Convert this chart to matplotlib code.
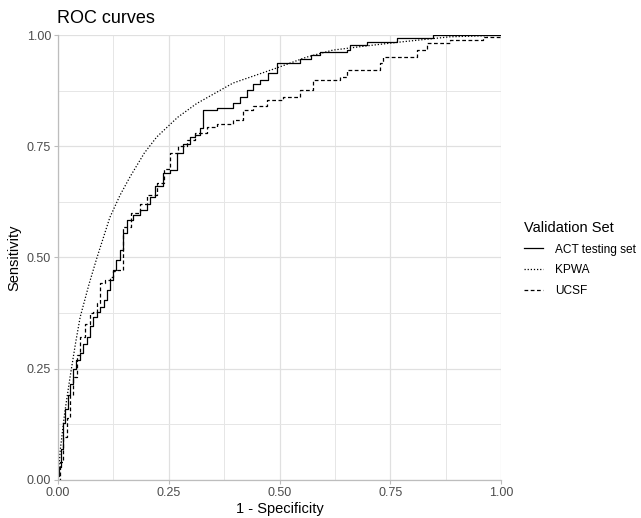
import matplotlib.pyplot as plt
from matplotlib.lines import Line2D

plt.rcParams['font.family'] = ['Liberation Sans', 'DejaVu Sans']

# ROC points (1 - specificity, sensitivity)
act_fpr = [0.0, 0.003, 0.006, 0.011, 0.016, 0.022, 0.027, 0.034, 0.041, 0.05, 0.057,
           0.065, 0.072, 0.079, 0.088, 0.095, 0.103, 0.11, 0.117, 0.124, 0.132, 0.14,
           0.147, 0.155, 0.17, 0.185, 0.2, 0.208, 0.22, 0.237, 0.253, 0.268, 0.283, 0.298,
           0.31, 0.32, 0.328, 0.36, 0.395, 0.41, 0.426, 0.44, 0.456, 0.475, 0.494, 0.546,
           0.57, 0.591, 0.652, 0.659, 0.697, 0.765, 0.847, 1.0]
act_tpr = [0.01, 0.03, 0.07, 0.128, 0.16, 0.19, 0.215, 0.25, 0.27, 0.285, 0.305,
           0.321, 0.345, 0.366, 0.378, 0.389, 0.405, 0.427, 0.45, 0.472, 0.494, 0.517,
           0.555, 0.584, 0.595, 0.607, 0.62, 0.637, 0.66, 0.69, 0.697, 0.735, 0.755, 0.771,
           0.775, 0.79, 0.831, 0.835, 0.847, 0.86, 0.876, 0.89, 0.899, 0.915, 0.937, 0.945,
           0.955, 0.962, 0.966, 0.978, 0.984, 0.993, 1.0, 1.0]

kpwa_fpr = [0.0, 0.005, 0.015, 0.027, 0.04, 0.05, 0.07, 0.088, 0.117, 0.14, 0.163,
            0.195, 0.223, 0.27, 0.313, 0.395, 0.494, 0.56, 0.62, 0.7, 0.77, 0.885, 0.95, 1.0]
kpwa_tpr = [0.0, 0.067, 0.15, 0.23, 0.31, 0.366, 0.44, 0.50, 0.59, 0.64, 0.682,
            0.735, 0.771, 0.815, 0.846, 0.892, 0.926, 0.95, 0.966, 0.976, 0.984, 0.996, 0.998, 1.0]

ucsf_fpr = [0.0, 0.004, 0.011, 0.02, 0.028, 0.034, 0.042, 0.05, 0.06, 0.072, 0.08,
            0.088, 0.095, 0.105, 0.117, 0.125, 0.133, 0.147, 0.165, 0.185, 0.2, 0.223,
            0.24, 0.253, 0.27, 0.291, 0.31, 0.336, 0.36, 0.395, 0.418, 0.44, 0.472,
            0.508, 0.546, 0.576, 0.637, 0.652, 0.727, 0.734, 0.81, 0.833, 0.885,
            0.959, 1.0]
ucsf_tpr = [0.0, 0.04, 0.097, 0.14, 0.19, 0.231, 0.28, 0.321, 0.35, 0.375, 0.378,
            0.398, 0.443, 0.45, 0.456, 0.47, 0.472, 0.569, 0.6, 0.62, 0.64, 0.667,
            0.7, 0.735, 0.75, 0.764, 0.78, 0.793, 0.8, 0.809, 0.831, 0.84, 0.854,
            0.861, 0.876, 0.899, 0.906, 0.921, 0.937, 0.951, 0.966, 0.982, 0.989,
            0.996, 1.0]

series = ['ACT testing set', 'KPWA', 'UCSF']
ticks = [0.0, 0.25, 0.5, 0.75, 1.0]
tick_labels = ['0.00', '0.25', '0.50', '0.75', '1.00']

fig = plt.figure(figsize=(6.41, 5.18), dpi=100)
ax = fig.add_axes([0.0905, 0.0734, 0.6911, 0.859])

ax.plot(act_fpr, act_tpr, color='black', lw=0.9, ls='-', drawstyle='steps-post')
ax.plot(kpwa_fpr, kpwa_tpr, color='black', lw=0.9, ls=(0, (1, 1.5)))
ax.plot(ucsf_fpr, ucsf_tpr, color='black', lw=0.9, ls=(0, (3, 2)), drawstyle='steps-post')

ax.set_xlim(0, 1)
ax.set_ylim(0, 1)
ax.set_xticks(ticks)
ax.set_xticklabels(tick_labels)
ax.set_yticks(ticks)
ax.set_yticklabels(tick_labels)
ax.set_xticks([0.125, 0.375, 0.625, 0.875], minor=True)
ax.set_yticks([0.125, 0.375, 0.625, 0.875], minor=True)
ax.grid(which='major', color='#e0e0e0', lw=0.9)
ax.grid(which='minor', color='#e6e6e6', lw=0.7)
ax.set_axisbelow(True)
ax.tick_params(which='major', length=3, color='#bdbdbd', labelsize=9,
               labelcolor='#4d4d4d', pad=2)
ax.tick_params(which='minor', length=0)
for s in ['top', 'right']:
    ax.spines[s].set_visible(False)
for s in ['left', 'bottom']:
    ax.spines[s].set_color('#bdbdbd')
    ax.spines[s].set_linewidth(0.9)

ax.set_xlabel('1 - Specificity', fontsize=10.5, labelpad=2)
ax.set_ylabel('Sensitivity', fontsize=10.5, labelpad=4)
fig.text(0.089, 0.965, 'ROC curves', fontsize=13, va='center', ha='left')

handles = [Line2D([], [], color='black', lw=0.9, ls='-'),
           Line2D([], [], color='black', lw=0.9, ls=(0, (1, 1.5))),
           Line2D([], [], color='black', lw=0.9, ls=(0, (3, 2)))]
leg = fig.legend(handles, series, title='Validation Set', loc='center left',
                 bbox_to_anchor=(0.806, 0.5), frameon=False, fontsize=8.6,
                 title_fontsize=10.5, handlelength=1.6, handletextpad=1.0,
                 labelspacing=0.75, borderaxespad=0.2)
leg._legend_box.align = 'left'

fig.savefig('out.png', dpi=100)
